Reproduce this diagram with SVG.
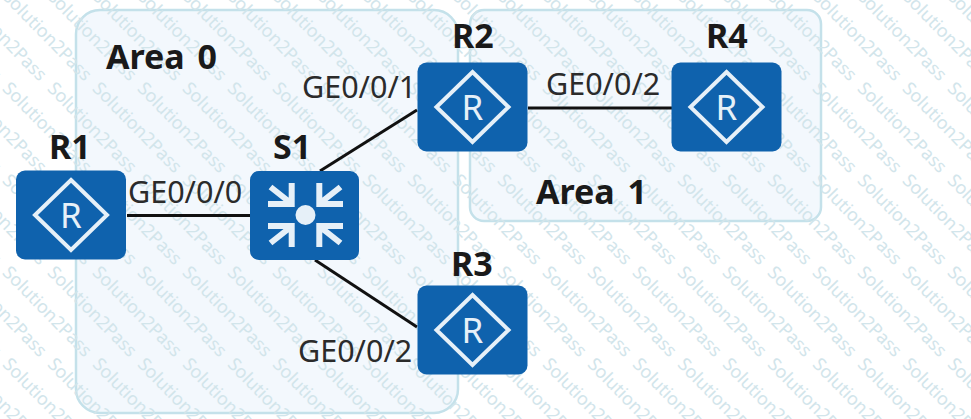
<svg xmlns="http://www.w3.org/2000/svg" width="971" height="419" viewBox="0 0 971 419">
<style>
.area{fill:#f3f8fd;stroke:#c4e1ea;stroke-width:2.5}
.dev{fill:#0f62ad}
.ico{fill:none;stroke:#e6f0f8;stroke-width:4}
.arm{fill:none;stroke:#e6f0f8;stroke-width:6}
.rt{font:400 35px "Noto Sans","Liberation Sans",sans-serif;fill:#e6f0f8;text-anchor:middle}
.name{font:700 34px "Noto Sans","Liberation Sans",sans-serif;fill:#1a1a1a;word-spacing:4px}
.port{font:400 30.500px "Noto Sans","Liberation Sans",sans-serif;fill:#2b2b2b}
.link{stroke:#111;stroke-width:3;fill:none}
.wm{font:400 18px "Noto Sans","Liberation Sans",sans-serif;fill:#d2e5eb;word-spacing:5.8px}
</style>
<defs>
<text id="w" class="wm" transform="rotate(45.6)">Solution2Pass Solution2Pass Solution2Pass Solution2Pass Solution2Pass Solution2Pass Solution2Pass Solution2Pass Solution2Pass Solution2Pass Solution2Pass</text>
<g id="router">
<rect class="dev" x="-55" y="-44.500" width="110" height="89" rx="9"/>
<path class="ico" d="M0-35 36 0 0 35-36 0Z"/>
<text class="rt" x="0" y="13">R</text>
</g>
<g id="arr">
<path class="arm" d="M-37.500-11H-13.800V-32M-35-28-16-13"/>
</g>
</defs>
<g id="areas">
<rect id="area0" class="area" x="76" y="10" width="382" height="403" rx="24"/>
<rect id="area1" class="area" x="470" y="10" width="351" height="211" rx="14"/>
</g>
<g id="watermark">
<use href="#w" transform="translate(-538.600,-94.400)"/><use href="#w" transform="translate(-493.600,-94.400)"/><use href="#w" transform="translate(-448.600,-94.400)"/><use href="#w" transform="translate(-403.600,-94.400)"/><use href="#w" transform="translate(-358.600,-94.400)"/><use href="#w" transform="translate(-313.600,-94.400)"/><use href="#w" transform="translate(-268.600,-94.400)"/><use href="#w" transform="translate(-223.600,-94.400)"/><use href="#w" transform="translate(-178.600,-94.400)"/><use href="#w" transform="translate(-133.600,-94.400)"/><use href="#w" transform="translate(-88.600,-94.400)"/><use href="#w" transform="translate(-43.600,-94.400)"/><use href="#w" transform="translate(1.400,-94.400)"/><use href="#w" transform="translate(46.400,-94.400)"/><use href="#w" transform="translate(91.400,-94.400)"/><use href="#w" transform="translate(136.400,-94.400)"/><use href="#w" transform="translate(181.400,-94.400)"/><use href="#w" transform="translate(226.400,-94.400)"/><use href="#w" transform="translate(271.400,-94.400)"/><use href="#w" transform="translate(316.400,-94.400)"/><use href="#w" transform="translate(361.400,-94.400)"/><use href="#w" transform="translate(406.400,-94.400)"/><use href="#w" transform="translate(451.400,-94.400)"/><use href="#w" transform="translate(496.400,-94.400)"/><use href="#w" transform="translate(541.400,-94.400)"/><use href="#w" transform="translate(586.400,-94.400)"/><use href="#w" transform="translate(631.400,-94.400)"/><use href="#w" transform="translate(676.400,-94.400)"/><use href="#w" transform="translate(721.400,-94.400)"/><use href="#w" transform="translate(766.400,-94.400)"/><use href="#w" transform="translate(811.400,-94.400)"/><use href="#w" transform="translate(856.400,-94.400)"/>
</g>
<g id="connectors">
<path class="link" d="M127 215.500H250"/>
<path class="link" d="M320 171 417 110"/>
<path class="link" d="M315 260 417 327"/>
<path class="link" d="M528 108H672"/>
</g>
<g id="R1"><use href="#router" transform="translate(71,215)"/><text class="name" x="49" y="159">R1</text></g>
<g id="S1">
<rect class="dev" x="250" y="171" width="109" height="89" rx="9"/>
<use href="#arr" transform="translate(305.500,215)"/>
<use href="#arr" transform="translate(305.500,215) scale(-1,1)"/>
<use href="#arr" transform="translate(305.500,215) scale(1,-1)"/>
<use href="#arr" transform="translate(305.500,215) scale(-1,-1)"/>
<circle cx="305.500" cy="215" r="10" fill="#e6f0f8"/>
<text class="name" x="273" y="159">S1</text>
</g>
<g id="R2"><use href="#router" transform="translate(472.500,107)"/><text class="name" x="452" y="48">R2</text></g>
<g id="R3"><use href="#router" transform="translate(472.500,330)"/><text class="name" x="451" y="276">R3</text></g>
<g id="R4"><use href="#router" transform="translate(726.500,107)"/><text class="name" x="706" y="48">R4</text></g>
<g id="labels">
<text class="name" x="106" y="69">Area 0</text>
<text class="name" x="536" y="204">Area 1</text>
<text class="port" x="128" y="203">GE0/0/0</text>
<text class="port" x="302" y="98">GE0/0/1</text>
<text class="port" x="546" y="95">GE0/0/2</text>
<text class="port" x="298" y="362">GE0/0/2</text>
</g>
</svg>
